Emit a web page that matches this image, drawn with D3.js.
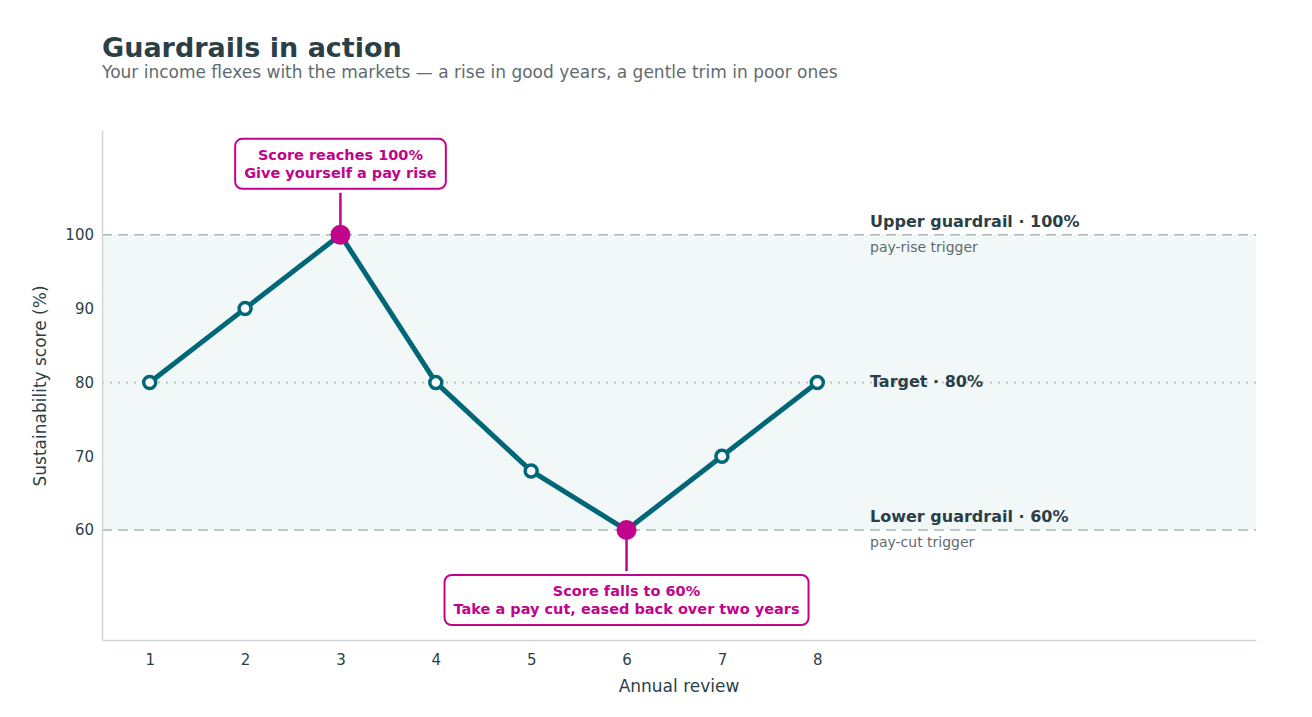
<!DOCTYPE html>
<html><head><meta charset="utf-8">
<script src="https://cdn.jsdelivr.net/npm/d3@7"></script>
<style>body{margin:0;background:#fff;font-family:"DejaVu Sans",sans-serif}</style>
</head><body><svg id="c" width="1312" height="717"></svg>
<script>
var years = [1, 2, 3, 4, 5, 6, 7, 8];
var scores = [80, 90, 100, 80, 68, 60, 70, 80];
var yTicks = [60, 70, 80, 90, 100];
var upper = 100, lower = 60, target = 80;
var highlights = [
  {year: 3, value: 100, lines: ["Score reaches 100%", "Give yourself a pay rise"], above: true},
  {year: 6, value: 60, lines: ["Score falls to 60%", "Take a pay cut, eased back over two years"], above: false}
];
var sideLabels = [
  {value: 100, title: "Upper guardrail · 100%", sub: "pay-rise trigger"},
  {value: 80, title: "Target · 80%", sub: null},
  {value: 60, title: "Lower guardrail · 60%", sub: "pay-cut trigger"}
];

var teal = "#006778", pink = "#c0048c", ink = "#2b3f47", grey = "#5f6b70";
var svg = d3.select("#c");
var L = 102, R = 1256, T = 130, B = 640;
var x = d3.scaleLinear().domain([0.5, 12.6]).range([L, R]);
var y = d3.scaleLinear().domain([45.1, 114.2]).range([B, T]);

svg.append("text").attr("x", 102).attr("y", 57).attr("font-size", 27).attr("font-weight", "bold").attr("fill", ink).text("Guardrails in action");
svg.append("text").attr("x", 102).attr("y", 78).attr("font-size", 17).attr("fill", grey).text("Your income flexes with the markets — a rise in good years, a gentle trim in poor ones");

// band
svg.append("rect").attr("x", L).attr("y", y(upper)).attr("width", R - L).attr("height", y(lower) - y(upper)).attr("fill", "#f2f7f8");
[upper, lower].forEach(function (v) {
  svg.append("line").attr("x1", L).attr("x2", R).attr("y1", y(v)).attr("y2", y(v))
    .attr("stroke", "#a9b7bb").attr("stroke-width", 1.6).attr("stroke-dasharray", "10,6");
});
svg.append("line").attr("x1", L).attr("x2", R).attr("y1", y(target)).attr("y2", y(target))
  .attr("stroke", "#b8c4c7").attr("stroke-width", 2).attr("stroke-dasharray", "2,6");

// axes
var xa = svg.append("g").attr("transform", "translate(0," + B + ")").call(d3.axisBottom(x).tickValues(years).tickSize(0).tickPadding(14));
var ya = svg.append("g").attr("transform", "translate(" + L + ",0)").call(d3.axisLeft(y).tickValues(yTicks).tickSize(0).tickPadding(8));
[xa, ya].forEach(function (a) {
  a.select(".domain").attr("stroke", "#cfd4d6").attr("stroke-width", 1.5);
  a.selectAll("text").attr("font-size", 15).attr("fill", ink).attr("font-family", "DejaVu Sans");
});
svg.append("text").attr("x", 679).attr("y", 692).attr("text-anchor", "middle").attr("font-size", 17).attr("fill", ink).text("Annual review");
svg.append("text").attr("transform", "translate(46,386) rotate(-90)").attr("text-anchor", "middle").attr("font-size", 17).attr("fill", ink).text("Sustainability score (%)");

// side labels
sideLabels.forEach(function (s) {
  svg.append("text").attr("x", 870).attr("y", y(s.value) - (s.sub ? 8 : -5)).attr("font-size", 16).attr("font-weight", "bold").attr("fill", ink).text(s.title);
  if (s.sub) svg.append("text").attr("x", 870).attr("y", y(s.value) + 17).attr("font-size", 14).attr("fill", grey).text(s.sub);
});

// line
var pts = years.map(function (d, i) { return {year: d, value: scores[i]}; });
svg.append("path").datum(pts).attr("fill", "none").attr("stroke", teal).attr("stroke-width", 5).attr("stroke-linejoin", "round")
  .attr("d", d3.line().x(function (d) { return x(d.year); }).y(function (d) { return y(d.value); }));
var hiYears = highlights.map(function (h) { return h.year; });
svg.selectAll(".pt").data(pts.filter(function (d) { return hiYears.indexOf(d.year) < 0; })).enter().append("circle")
  .attr("cx", function (d) { return x(d.year); }).attr("cy", function (d) { return y(d.value); }).attr("r", 6)
  .attr("fill", "#fff").attr("stroke", teal).attr("stroke-width", 3.5);

// annotations
highlights.forEach(function (h) {
  var cx = x(h.year), cy = y(h.value);
  var g = svg.append("g");
  var texts = g.append("g");
  var boxTop = h.above ? cy - 96 : cy + 45;
  h.lines.forEach(function (t, i) {
    texts.append("text").attr("x", cx).attr("y", boxTop + 21 + i * 18).attr("text-anchor", "middle")
      .attr("font-size", 14.5).attr("font-weight", "bold").attr("fill", pink).text(t);
  });
  var bb = texts.node().getBBox();
  g.insert("rect", ":first-child").attr("x", bb.x - 9).attr("y", boxTop).attr("width", bb.width + 18).attr("height", 50)
    .attr("rx", 7).attr("fill", "#fff").attr("stroke", pink).attr("stroke-width", 2);
  svg.append("line").attr("x1", cx).attr("x2", cx).attr("y1", cy).attr("y2", h.above ? boxTop + 54 : boxTop - 4)
    .attr("stroke", pink).attr("stroke-width", 2.5);
  svg.append("circle").attr("cx", cx).attr("cy", cy).attr("r", 10).attr("fill", pink);
});
</script></body></html>
